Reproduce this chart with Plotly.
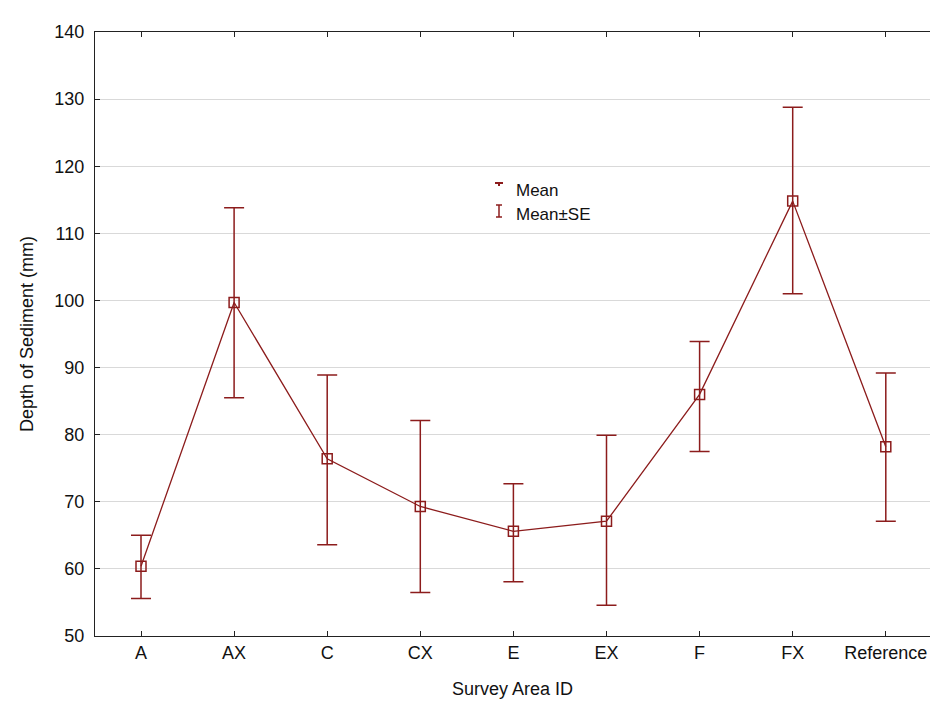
import plotly.graph_objects as go

categories = ["A", "AX", "C", "CX", "E", "EX", "F", "FX", "Reference"]
mean_depth = [60.4, 99.7, 76.4, 69.3, 65.6, 67.1, 86.0, 114.8, 78.2]
upper_se = [65.0, 113.8, 88.9, 82.1, 72.7, 79.9, 93.9, 128.8, 89.2]
lower_se = [55.6, 85.5, 63.6, 56.5, 58.1, 54.6, 77.5, 101.0, 67.1]

y_ticks = [50, 60, 70, 80, 90, 100, 110, 120, 130, 140]

RED = "#8c1c1c"
FONT = "Liberation Sans, Arial, sans-serif"

err_plus = [u - m for u, m in zip(upper_se, mean_depth)]
err_minus = [m - l for m, l in zip(mean_depth, lower_se)]

fig = go.Figure()
fig.add_trace(go.Scatter(
    x=list(range(len(categories))),
    y=mean_depth,
    mode="lines+markers",
    line=dict(color=RED, width=1.3),
    marker=dict(symbol="square-open", size=10, color=RED, line=dict(width=1.5, color=RED)),
    error_y=dict(type="data", symmetric=False, array=err_plus, arrayminus=err_minus,
                 color=RED, thickness=1.5, width=10),
    showlegend=False,
    cliponaxis=False,
))

L, T, B = 95, 32, 70
W, H = 930, 706
pw = W - L
ph = H - T - B
spacing = 93.1
x0 = -46.0 / spacing
x1 = x0 + pw / spacing

fig.update_layout(
    width=W, height=H,
    margin=dict(l=L, r=0, t=T, b=B, pad=0, autoexpand=False),
    paper_bgcolor="white", plot_bgcolor="white",
    font=dict(family=FONT, size=18, color="#111111"),
    xaxis=dict(
        range=[x0, x1],
        automargin=False,
        tickmode="array",
        tickvals=list(range(len(categories))),
        ticktext=categories,
        ticks="inside", ticklen=5, tickcolor="#222", tickwidth=1,
        showline=True, linecolor="#222", linewidth=1.2, mirror="ticks",
        showgrid=False, zeroline=False,
        tickfont=dict(family=FONT, size=18, color="#111"),
        title=dict(text="Survey Area ID", font=dict(family=FONT, size=18, color="#111"), standoff=20),
    ),
    yaxis=dict(
        range=[50, 140],
        automargin=False,
        tickmode="array", tickvals=y_ticks,
        ticks="inside", ticklen=5, tickcolor="#222", tickwidth=1,
        showline=True, linecolor="#222", linewidth=1.2, mirror=False,
        showgrid=True, gridcolor="#d9d9d9", gridwidth=1, zeroline=False,
        tickfont=dict(family=FONT, size=18, color="#111"),
        ticklabelstandoff=6,
        title=dict(text="Depth of Sediment (mm)", font=dict(family=FONT, size=18, color="#111"), standoff=15),
    ),
)

def px(xpix):
    return (xpix - L) / pw

def py(ypix):
    return (H - B - ypix) / ph

# legend text
fig.add_annotation(x=px(514), y=py(190), xref="paper", yref="paper", text="Mean",
                   showarrow=False, xanchor="left", yanchor="middle",
                   font=dict(family=FONT, size=17, color="#111"))
fig.add_annotation(x=px(514), y=py(214), xref="paper", yref="paper", text="Mean±SE",
                   showarrow=False, xanchor="left", yanchor="middle",
                   font=dict(family=FONT, size=17, color="#111"))
# legend symbols
shapes = [
    dict(type="line", xref="paper", yref="paper", x0=px(495), x1=px(503), y0=py(183), y1=py(183),
         line=dict(color=RED, width=2)),
    dict(type="line", xref="paper", yref="paper", x0=px(499), x1=px(499), y0=py(183), y1=py(186),
         line=dict(color=RED, width=2)),
    dict(type="line", xref="paper", yref="paper", x0=px(499), x1=px(499), y0=py(205), y1=py(217),
         line=dict(color=RED, width=1.5)),
    dict(type="line", xref="paper", yref="paper", x0=px(496), x1=px(502), y0=py(205), y1=py(205),
         line=dict(color=RED, width=1.5)),
    dict(type="line", xref="paper", yref="paper", x0=px(496), x1=px(502), y0=py(217), y1=py(217),
         line=dict(color=RED, width=1.5)),
]
fig.update_layout(shapes=shapes)

fig.write_html(
    "out.html",
    config={"displayModeBar": False},
    post_script="document.body.style.margin='0';document.body.style.padding='0';"
                "document.documentElement.style.overflow='hidden';document.body.style.overflow='hidden';",
)
